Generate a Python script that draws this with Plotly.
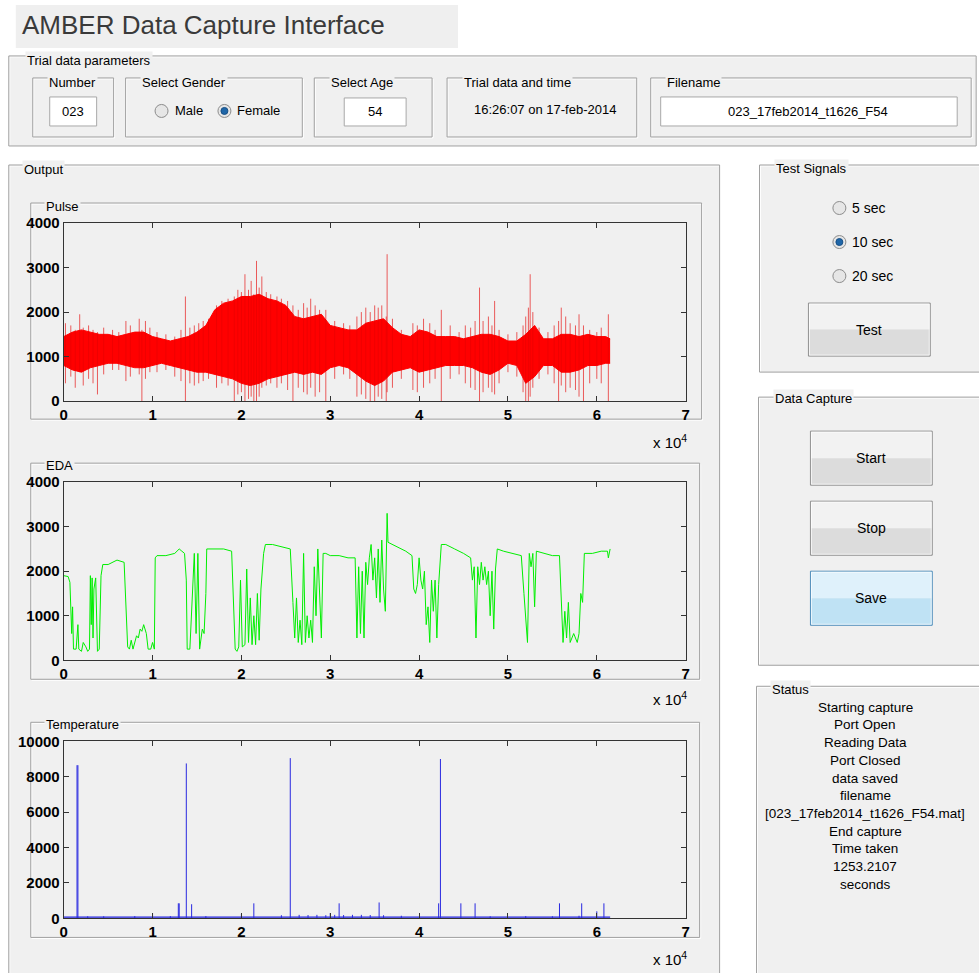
import plotly.graph_objects as go

W, H = 979, 973

# ---------------- DATA ----------------
x_ticks = [0, 1, 2, 3, 4, 5, 6, 7]
x_tick_text = ["0", "1", "2", "3", "4", "5", "6", "7"]
pulse_yticks = [0, 1000, 2000, 3000, 4000]
eda_yticks = [0, 1000, 2000, 3000, 4000]
temp_yticks = [0, 2000, 4000, 6000, 8000, 10000]

# Pulse: dense band envelope (x in units of 1e4 samples)
pulse_x = [0.0, 0.1, 0.2, 0.3, 0.4, 0.5, 0.6, 0.7, 0.8, 0.9, 1.0, 1.1, 1.2, 1.3, 1.4, 1.5,
           1.6, 1.7, 1.8, 1.9, 2.0, 2.1, 2.2, 2.3, 2.4, 2.5, 2.6, 2.7, 2.8, 2.9, 3.0, 3.1,
           3.2, 3.3, 3.4, 3.5, 3.6, 3.7, 3.8, 3.9, 4.0, 4.1, 4.2, 4.3, 4.4, 4.5, 4.6, 4.7,
           4.8, 4.9, 5.0, 5.1, 5.2, 5.3, 5.4, 5.5, 5.6, 5.7, 5.8, 5.9, 6.0, 6.1, 6.15]
pulse_upper = [1450, 1550, 1600, 1550, 1500, 1500, 1450, 1500, 1550, 1550, 1450, 1400, 1350, 1400,
               1450, 1550, 1700, 2050, 2200, 2250, 2350, 2350, 2400, 2300, 2250, 2150, 1900, 1850,
               1900, 1950, 1700, 1650, 1600, 1600, 1750, 1800, 1850, 1650, 1500, 1450, 1600, 1550,
               1450, 1450, 1450, 1400, 1450, 1500, 1500, 1450, 1350, 1350, 1500, 1700, 1400, 1400,
               1500, 1500, 1450, 1500, 1450, 1450, 1400]
pulse_lower = [800, 700, 650, 750, 800, 850, 850, 800, 750, 750, 800, 850, 800, 750, 700, 650,
               650, 600, 550, 500, 400, 350, 400, 500, 550, 600, 650, 600, 650, 600, 750, 800,
               750, 600, 450, 350, 450, 650, 700, 750, 650, 700, 750, 800, 800, 800, 750, 650,
               600, 700, 850, 800, 400, 550, 800, 800, 650, 650, 700, 800, 800, 850, 850]
# Pulse: individual excursions (x, lowest, highest)
pulse_spike_x = [0.02, 0.08, 0.13, 0.18, 0.22, 0.28, 0.33, 0.38, 0.45, 0.55, 0.62, 0.70, 0.75, 0.85,
                 0.88, 0.92, 0.97, 1.05, 1.15, 1.25, 1.32, 1.37, 1.42, 1.47, 1.52, 1.57, 1.63, 1.72,
                 1.78, 1.85, 1.92, 1.96, 2.00, 2.04, 2.08, 2.11, 2.14, 2.17, 2.20, 2.23, 2.28, 2.33,
                 2.40, 2.45, 2.52, 2.58, 2.64, 2.70, 2.74, 2.78, 2.83, 2.88, 2.95, 3.05, 3.15, 3.22,
                 3.30, 3.35, 3.40, 3.45, 3.50, 3.54, 3.58, 3.63, 3.64, 3.70, 3.80, 3.93, 3.98, 4.05,
                 4.12, 4.18, 4.25, 4.35, 4.45, 4.52, 4.58, 4.63, 4.68, 4.72, 4.78, 4.82, 4.85, 4.90,
                 5.00, 5.10, 5.17, 5.20, 5.23, 5.25, 5.28, 5.35, 5.45, 5.52, 5.57, 5.60, 5.65, 5.70,
                 5.76, 5.80, 5.85, 5.92, 6.00, 6.05, 6.13]
pulse_spike_lo = [400, 550, 300, 650, 350, 500, 400, 150, 600, 700, 700, 450, 550, 600,
                  0, 500, 650, 650, 700, 550, 450, 0, 400, 350, 400, 450, 500, 300,
                  400, 350, 0, 150, 200, 0, 50, 100, 0, 0, 100, 300, 350, 400,
                  300, 400, 250, 0, 300, 200, 150, 300, 100, 200, 0, 500, 600, 500,
                  100, 150, 50, 0, 0, 100, 50, 0, 200, 300, 500, 250, 200, 300,
                  400, 500, 0, 500, 600, 400, 300, 250, 0, 200, 300, 200, 150, 400,
                  650, 550, 200, 0, 0, 100, 300, 500, 600, 400, 0, 350, 200, 300,
                  250, 100, 0, 400, 500, 400, 0]
pulse_spike_hi = [1750, 1700, 1600, 1950, 1650, 1700, 1600, 1550, 1650, 1600, 1550, 1800, 1700, 1850,
                  1600, 1800, 1650, 1550, 1500, 1450, 1600, 2350, 1650, 1700, 1750, 1800, 1850, 2150,
                  2250, 2300, 2350, 2500, 2450, 2850, 2500, 2700, 2400, 3150, 2550, 2800, 2450, 2400,
                  2350, 2300, 2250, 2150, 2050, 2200, 2100, 2300, 2150, 2050, 2050, 1800, 1750, 1700,
                  1900, 2000, 2100, 2000, 2150, 2100, 2150, 1900, 3300, 1850, 1600, 1750, 1700, 1850,
                  1750, 1600, 2050, 1700, 1550, 1700, 1650, 1800, 2550, 1800, 1900, 1700, 2250, 1600,
                  1500, 1550, 1700, 1900, 2100, 2850, 2000, 1650, 1550, 1700, 1800, 2100, 1900, 1750,
                  1700, 1950, 1700, 1600, 1550, 1650, 1950]

# EDA trace
eda_x = [0.00, 0.05, 0.07, 0.09, 0.10, 0.11, 0.14, 0.16, 0.17, 0.20, 0.22, 0.25, 0.27, 0.29, 0.30,
         0.31, 0.32, 0.33, 0.34, 0.36, 0.38, 0.40, 0.42, 0.44, 0.50, 0.55, 0.60, 0.68, 0.70, 0.72,
         0.74, 0.76, 0.78, 0.80, 0.82, 0.84, 0.86, 0.88, 0.90, 0.93, 0.95, 0.98, 1.00, 1.02, 1.03,
         1.05, 1.15, 1.25, 1.30, 1.33, 1.36, 1.38, 1.39, 1.42, 1.45, 1.47, 1.49, 1.51, 1.53, 1.56,
         1.58, 1.60, 1.61, 1.70, 1.80, 1.89, 1.91, 1.93, 1.95, 1.97, 1.99, 2.01, 2.04, 2.06, 2.08,
         2.10, 2.12, 2.14, 2.16, 2.18, 2.20, 2.22, 2.25, 2.27, 2.35, 2.45, 2.55, 2.58, 2.60, 2.62,
         2.64, 2.66, 2.68, 2.70, 2.72, 2.74, 2.76, 2.78, 2.80, 2.82, 2.84, 2.86, 2.88, 2.90, 2.92,
         2.95, 3.00, 3.10, 3.20, 3.28, 3.30, 3.32, 3.34, 3.36, 3.38, 3.40, 3.42, 3.44, 3.46, 3.48,
         3.50, 3.52, 3.54, 3.56, 3.58, 3.60, 3.62, 3.64, 3.65, 3.70, 3.75, 3.85, 3.92, 3.94, 3.96,
         3.98, 4.00, 4.02, 4.04, 4.06, 4.08, 4.10, 4.12, 4.14, 4.16, 4.18, 4.20, 4.22, 4.25, 4.30,
         4.40, 4.50, 4.58, 4.60, 4.62, 4.64, 4.66, 4.68, 4.70, 4.72, 4.74, 4.76, 4.78, 4.80, 4.82,
         4.84, 4.86, 4.88, 4.95, 5.05, 5.15, 5.18, 5.20, 5.22, 5.24, 5.26, 5.28, 5.30, 5.32, 5.40,
         5.50, 5.58, 5.60, 5.62, 5.64, 5.66, 5.68, 5.70, 5.74, 5.78, 5.80, 5.82, 5.84, 5.86, 5.95,
         6.05, 6.12, 6.13, 6.15]
eda_y = [1900, 1880, 1750, 600, 1200, 250, 250, 800, 250, 200, 400, 300, 200, 250, 1900,
         800, 1850, 500, 1600, 1850, 200, 250, 1900, 2150, 2150, 2200, 2250, 2200, 1300, 300,
         250, 450, 250, 400, 550, 500, 700, 650, 800, 600, 250, 250, 400, 250, 2300,
         2350, 2350, 2400, 2500, 2450, 2400, 1800, 250, 250, 1700, 2400, 600, 2400, 250, 700,
         600, 1500, 2500, 2500, 2500, 2450, 1200, 250, 200, 300, 1800, 300, 350, 2050, 400,
         1400, 350, 1000, 350, 1500, 450, 1600, 2400, 2600, 2600, 2550, 2500, 1300, 500, 1400,
         400, 900, 350, 2400, 400, 1000, 500, 900, 400, 2100, 1000, 2500, 1400, 500, 2400,
         2400, 2350, 2350, 2300, 2300, 500, 2100, 600, 2000, 500, 2200, 1700, 2300, 2600, 1800,
         2300, 1400, 2500, 1300, 2700, 1600, 1100, 3300, 2650, 2600, 2550, 2450, 2350, 1600, 1500,
         1700, 2300, 1800, 1600, 2000, 800, 1200, 400, 1800, 1100, 1800, 500, 1700, 2600, 2600,
         2500, 2400, 2300, 1800, 2100, 500, 2100, 1700, 2200, 1800, 2100, 1700, 2000, 1000, 2000,
         700, 2050, 2500, 2450, 2400, 2350, 1500, 1000, 400, 2400, 2100, 2400, 1200, 2450, 2400,
         2350, 2350, 1500, 400, 1100, 500, 1300, 400, 600, 400, 600, 1500, 1300, 2400, 2400,
         2450, 2450, 2300, 2500]

# Temperature: baseline and spikes
temp_base_x = [0.0, 2.4, 2.45, 3.6, 3.65, 6.15]
temp_base_y = [70, 70, 110, 110, 70, 70]
temp_spike_x = [0.15, 0.16, 0.27, 0.45, 0.80, 1.00, 1.20, 1.29, 1.30, 1.38, 1.44, 1.60, 2.00,
                2.14, 2.45, 2.55, 2.65, 2.75, 2.85, 2.95, 3.00, 3.05, 3.10, 3.15, 3.25, 3.35,
                3.45, 3.55, 3.60, 3.80, 4.22, 4.24, 4.47, 4.63, 4.80, 5.20, 5.50, 5.58, 5.80,
                5.83, 6.00, 6.08]
temp_spike_h = [8650, 8650, 120, 120, 130, 300, 130, 850, 850, 8750, 800, 130, 250,
                850, 180, 9050, 200, 190, 200, 180, 300, 200, 850, 190, 200, 200,
                190, 900, 180, 150, 850, 9000, 850, 850, 120, 130, 120, 850, 150,
                850, 400, 850]

status_lines = ["Starting capture", "Port Open", "Reading Data", "Port Closed", "data saved",
                "filename", "[023_17feb2014_t1626_F54.mat]", "End capture", "Time taken",
                "1253.2107", "seconds"]
radio_labels = ["5 sec", "10 sec", "20 sec"]

# ---------------- HELPERS ----------------
FONT = "Liberation Sans, Arial, sans-serif"
PANEL = "#f0f0f0"
EDGE = "#a0a0a0"

# the photographed page shows the figure slightly squeezed about its centre;
# these factors map target pixel positions back into layout positions
SX, OX = 0.9935, 3.2
SY, OY = 0.982, 9.09


def px(x):
    return ((x - OX) / SX) / W


def py(y):
    return 1 - ((y - OY) / SY) / H


shapes = []
annotations = []


def rect(x0, y0, x1, y1, fill=None, line=None, lw=1):
    shapes.append(dict(type="rect", xref="paper", yref="paper",
                       x0=px(x0), x1=px(x1), y0=py(y1), y1=py(y0),
                       fillcolor=fill if fill else "rgba(0,0,0,0)",
                       line=dict(color=line if line else "rgba(0,0,0,0)", width=lw if line else 0),
                       layer="below"))


def frame(x0, y0, x1, y1, fill=None):
    if fill:
        rect(x0, y0, x1, y1, fill=fill)
    rect(x0 + 1, y0 + 1, x1 + 1, y1 + 1, line="#ffffff")
    rect(x0, y0, x1, y1, line=EDGE)


def circle(cx, cy, r, fill, line, lw=1):
    shapes.append(dict(type="circle", xref="paper", yref="paper",
                       x0=px(cx - r), x1=px(cx + r), y0=py(cy + r), y1=py(cy - r),
                       fillcolor=fill, line=dict(color=line, width=lw), layer="below"))


def text(x, y, s, size=13, xanchor="left", yanchor="middle", color="#000000", bg=None, pad=0):
    a = dict(x=px(x), y=py(y), xref="paper", yref="paper", text=s, showarrow=False,
             xanchor=xanchor, yanchor=yanchor, font=dict(family=FONT, size=size, color=color),
             borderpad=pad)
    if bg:
        a["bgcolor"] = bg
    annotations.append(a)


def button(x0, y0, x1, y1, label, top="#f2f2f2", bottom="#dcdcdc", border="#8e8e8e"):
    ym = (y0 + y1) / 2
    rect(x0, y0, x1, ym, fill=top)
    rect(x0, ym, x1, y1, fill=bottom)
    rect(x0, y0, x1, y1, line=border)
    rect(x0 + 1, y0 + 1, x1 - 1, y1 - 1, line="rgba(255,255,255,0.7)")
    text((x0 + x1) / 2, ym, label, size=14, xanchor="center")


def radio(cx, cy, selected):
    circle(cx, cy, 6.5, "#e6e6e6", "#8c8c8c")
    if selected:
        circle(cx, cy, 3.5, "#1f66a8", "#174f85")


# ---------------- GUI PANELS ----------------
# title
rect(15, 5, 458, 48, fill="#efefef")
text(20, 25, "AMBER Data Capture Interface", size=26, color="#3a3a3a")

# trial data parameters
frame(8, 56, 977, 146, fill=PANEL)
text(24, 61, "Trial data parameters", size=13, bg=PANEL, pad=1)
frame(32, 78, 113, 137)
text(46, 83, "Number", size=13, bg=PANEL, pad=1)
rect(49, 97, 96, 126, fill="#ffffff", line="#a8a8a8")
text(72.5, 112, "023", size=13, xanchor="center")
frame(125, 78, 302, 137)
text(139, 83, "Select Gender", size=13, bg=PANEL, pad=1)
radio(161, 111, False)
text(173, 111, "Male", size=13)
radio(224, 111, True)
text(236, 111, "Female", size=13)
frame(314, 78, 432, 137)
text(329, 83, "Select Age", size=13, bg=PANEL, pad=1)
rect(344, 98, 406, 126, fill="#ffffff", line="#a8a8a8")
text(375, 112, "54", size=13, xanchor="center")
frame(447, 78, 637, 137)
text(462, 83, "Trial data and time", size=13, bg=PANEL, pad=1)
text(545, 110, "16:26:07 on 17-feb-2014", size=13, xanchor="center")
frame(651, 78, 972, 137)
text(665, 83, "Filename", size=13, bg=PANEL, pad=1)
rect(661, 97, 958, 126, fill="#ffffff", line="#a8a8a8")
text(809, 112, "023_17feb2014_t1626_F54", size=13, xanchor="center")

# output panel
frame(8, 165, 720, 990, fill=PANEL)
text(21, 170, "Output", size=13, bg=PANEL, pad=1)
frame(30, 203, 702, 419)
text(43, 206, "Pulse", size=13, bg=PANEL, pad=1)
frame(30, 463, 700, 679)
text(43, 465, "EDA", size=13, bg=PANEL, pad=1)
frame(30, 722, 700, 937)
text(43, 724, "Temperature", size=13, bg=PANEL, pad=1)
for yb in (441, 698, 958):
    text(688, yb, "x 10<sup>4</sup>", size=15, xanchor="right")

# test signals
frame(760, 165, 990, 372, fill=PANEL)
text(774, 169, "Test Signals", size=13, bg=PANEL, pad=1)
for i, lab in enumerate(radio_labels):
    yy = 208 + 34 * i
    radio(840, yy, i == 1)
    text(852, yy, lab, size=14)
button(809, 303, 931, 356, "Test")

# data capture
frame(759, 397, 990, 665, fill=PANEL)
text(773, 398, "Data Capture", size=13, bg=PANEL, pad=1)
button(811, 431, 933, 485, "Start")
button(811, 501, 933, 555, "Stop")
button(811, 571, 933, 625, "Save", top="#dff1fb", bottom="#bfe2f4", border="#4a8ab8")

# status
frame(757, 686, 990, 990, fill=PANEL)
text(770, 689, "Status", size=13, bg=PANEL, pad=1)
for i, s in enumerate(status_lines):
    text(866, 707 + 17.7 * i, s, size=13.5, xanchor="center")

# ---------------- TRACES ----------------
fig = go.Figure()

fig.add_trace(go.Scatter(x=pulse_x, y=pulse_lower, mode="lines", line=dict(color="#ff0000", width=1),
                         xaxis="x", yaxis="y", showlegend=False, hoverinfo="skip"))
fig.add_trace(go.Scatter(x=pulse_x, y=pulse_upper, mode="lines", line=dict(color="#ff0000", width=1),
                         fill="tonexty", fillcolor="#ff0000",
                         xaxis="x", yaxis="y", showlegend=False, hoverinfo="skip"))
sx, sy = [], []
for xv, lo, hi in zip(pulse_spike_x, pulse_spike_lo, pulse_spike_hi):
    sx += [xv, xv, None]
    sy += [lo, hi, None]
fig.add_trace(go.Scatter(x=sx, y=sy, mode="lines", line=dict(color="rgba(230,0,0,0.7)", width=0.9),
                         xaxis="x", yaxis="y", showlegend=False, hoverinfo="skip"))

fig.add_trace(go.Scatter(x=eda_x, y=eda_y, mode="lines", line=dict(color="#00ee00", width=1),
                         xaxis="x2", yaxis="y2", showlegend=False))

fig.add_trace(go.Scatter(x=temp_base_x, y=temp_base_y, mode="lines",
                         line=dict(color="#2020e0", width=1.2),
                         xaxis="x3", yaxis="y3", showlegend=False))
tx, ty = [], []
for xv, h in zip(temp_spike_x, temp_spike_h):
    tx += [xv, xv, None]
    ty += [0, h, None]
fig.add_trace(go.Scatter(x=tx, y=ty, mode="lines", line=dict(color="#2828e0", width=1),
                         xaxis="x3", yaxis="y3", showlegend=False))

TICKFONT = dict(family=FONT, size=15, color="#000000", weight="bold")


def xax(anchor):
    return dict(domain=[px(63), px(686)], anchor=anchor, range=[0, 7], tickmode="array",
                tickvals=x_ticks, ticktext=x_tick_text, ticks="inside", ticklen=5,
                tickcolor="#333333", showline=True, linecolor="#333333", linewidth=1,
                mirror="ticks", showgrid=False, zeroline=False,
                tickfont=TICKFONT, fixedrange=True)


def yax(anchor, top, bottom, rng, vals):
    return dict(domain=[py(bottom), py(top)], anchor=anchor, range=rng, tickmode="array",
                tickvals=vals, ticktext=[str(v) for v in vals], ticks="inside", ticklen=5,
                tickcolor="#333333", showline=True, linecolor="#333333", linewidth=1,
                mirror="ticks", showgrid=False, zeroline=False,
                tickfont=TICKFONT, fixedrange=True)


fig.update_layout(
    width=W, height=H, margin=dict(l=0, r=0, t=0, b=0), autosize=False,
    paper_bgcolor="#ffffff", plot_bgcolor="#ffffff",
    xaxis=xax("y"), yaxis=yax("x", 223, 401, [0, 4000], pulse_yticks),
    xaxis2=xax("y2"), yaxis2=yax("x2", 482, 660, [0, 4000], eda_yticks),
    xaxis3=xax("y3"), yaxis3=yax("x3", 741, 918, [0, 10000], temp_yticks),
    shapes=shapes, annotations=annotations, showlegend=False,
)

fig.write_html("out.html", config={"responsive": False, "displayModeBar": False},
               post_script="document.body.style.margin='0';document.body.style.padding='0';"
                           "document.body.style.overflow='hidden';")
